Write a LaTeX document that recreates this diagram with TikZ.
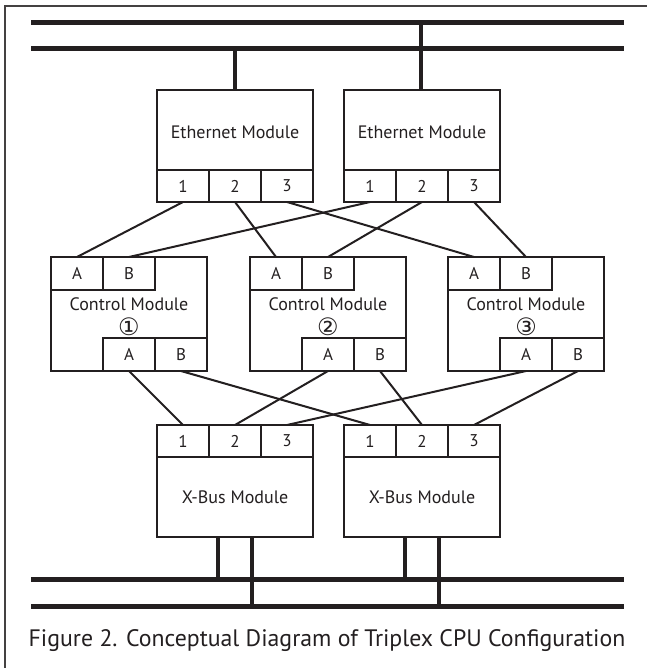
\documentclass[tikz,border=0pt]{standalone}
\usepackage{fontspec}
\setmainfont{PT Sans}
\newfontfamily\circfont{DejaVu Sans}
\definecolor{ink}{HTML}{231F20}
\begin{document}
\begin{tikzpicture}[x=1pt,y=-1pt,
  modbox/.style={draw=ink, line width=2pt, minimum width=156pt, inner sep=0pt, outer sep=0pt},
  portbox/.style={draw=ink, line width=2pt, minimum width=52pt, minimum height=32pt, inner sep=0pt, outer sep=0pt, font=\fontsize{17}{20}\selectfont, text=ink},
  lbl/.style={font=\fontsize{18}{21}\selectfont, text=ink, inner sep=0pt},
  circ/.style={font=\circfont\fontsize{24}{26}\selectfont, text=ink, inner sep=0pt},
  bus/.style={draw=ink, line width=5pt},
  drop/.style={draw=ink, line width=4.5pt},
  wire/.style={draw=ink, line width=2pt},
  frame/.style={draw=ink!85, line width=1.5pt},
]
\useasboundingbox (0,0) rectangle (646,668);
\draw[frame] (5,6) rectangle (700,720);

% buses
\coordinate (t1l) at (31,23);  \coordinate (t1r) at (624,23);
\coordinate (t2l) at (31,49);  \coordinate (t2r) at (624,49);
\coordinate (b1l) at (31,579); \coordinate (b1r) at (624,579);
\coordinate (b2l) at (31,606); \coordinate (b2r) at (624,606);
\draw[bus] (t1l) -- (t1r);
\draw[bus] (t2l) -- (t2r);
\draw[bus] (b1l) -- (b1r);
\draw[bus] (b2l) -- (b2r);

% Ethernet modules
\node[modbox, minimum height=112pt] (e1) at (235,146) {};
\node[modbox, minimum height=112pt] (e2) at (422,146) {};
\node[lbl] (e1t) at (235,132) {Ethernet Module};
\node[lbl] (e2t) at (422,132) {Ethernet Module};
\node[portbox] (e1p1) at (183,186) {1};
\node[portbox] (e1p2) at (235,186) {2};
\node[portbox] (e1p3) at (287,186) {3};
\node[portbox] (e2p1) at (370,186) {1};
\node[portbox] (e2p2) at (422,186) {2};
\node[portbox] (e2p3) at (474,186) {3};

% Control modules
\foreach \i/\cx in {1/129,2/328,3/526}{
  \node[modbox, minimum height=114pt] (c\i) at (\cx,314) {};
  \node[lbl] (c\i t) at (\cx,304.5) {Control Module};
  \node[portbox, minimum height=33pt] (c\i ta) at (\cx-52,273.5) {A};
  \node[portbox, minimum height=33pt] (c\i tb) at (\cx,273.5) {B};
  \node[portbox, minimum height=33pt] (c\i ba) at (\cx,354.5) {A};
  \node[portbox, minimum height=33pt] (c\i bb) at (\cx+52,354.5) {B};
}
\node[circ] (c1n) at (129,327) {①};
\node[circ] (c2n) at (328,327) {②};
\node[circ] (c3n) at (526,327) {③};

% X-Bus modules
\node[modbox, minimum height=112pt] (x1) at (235,481) {};
\node[modbox, minimum height=112pt] (x2) at (422,481) {};
\node[lbl] (x1t) at (235,497) {X-Bus Module};
\node[lbl] (x2t) at (422,497) {X-Bus Module};
\node[portbox] (x1p1) at (183,441) {1};
\node[portbox] (x1p2) at (235,441) {2};
\node[portbox] (x1p3) at (287,441) {3};
\node[portbox] (x2p1) at (370,441) {1};
\node[portbox] (x2p2) at (422,441) {2};
\node[portbox] (x2p3) at (474,441) {3};

% top drops
\coordinate (d1) at (421,23);
\coordinate (d2) at (235,49);
\draw[drop] (d1) -- (e2.north -| d1);
\draw[drop] (d2) -- (e1.north);

% bottom drops
\coordinate (f1) at (218,579);
\coordinate (f2) at (252,606);
\coordinate (f3) at (405,579);
\coordinate (f4) at (439,606);
\draw[drop] (x1.south -| f1) -- (f1);
\draw[drop] (x1.south -| f2) -- (f2);
\draw[drop] (x2.south -| f3) -- (f3);
\draw[drop] (x2.south -| f4) -- (f4);

% Ethernet to control
\draw[wire] (e1p1.south) -- (c1ta.north);
\draw[wire] (e1p2.south) -- (c2ta.north);
\draw[wire] (e1p3.south) -- (c3ta.north);
\draw[wire] (e2p1.south) -- (c1tb.north);
\draw[wire] (e2p2.south) -- (c2tb.north);
\draw[wire] (e2p3.south) -- (c3tb.north);

% control to X-Bus
\draw[wire] (c1ba.south) -- (x1p1.north);
\draw[wire] (c2ba.south) -- (x1p2.north);
\draw[wire] (c3ba.south) -- (x1p3.north);
\draw[wire] (c1bb.south) -- (x2p1.north);
\draw[wire] (c2bb.south) -- (x2p2.north);
\draw[wire] (c3bb.south) -- (x2p3.north);

% caption
\node[font=\fontsize{23.8}{27}\selectfont, text=ink, inner sep=0pt] (cap) at (327,641) {Figure 2. Conceptual Diagram of Triplex CPU Configuration};
\end{tikzpicture}
\end{document}
